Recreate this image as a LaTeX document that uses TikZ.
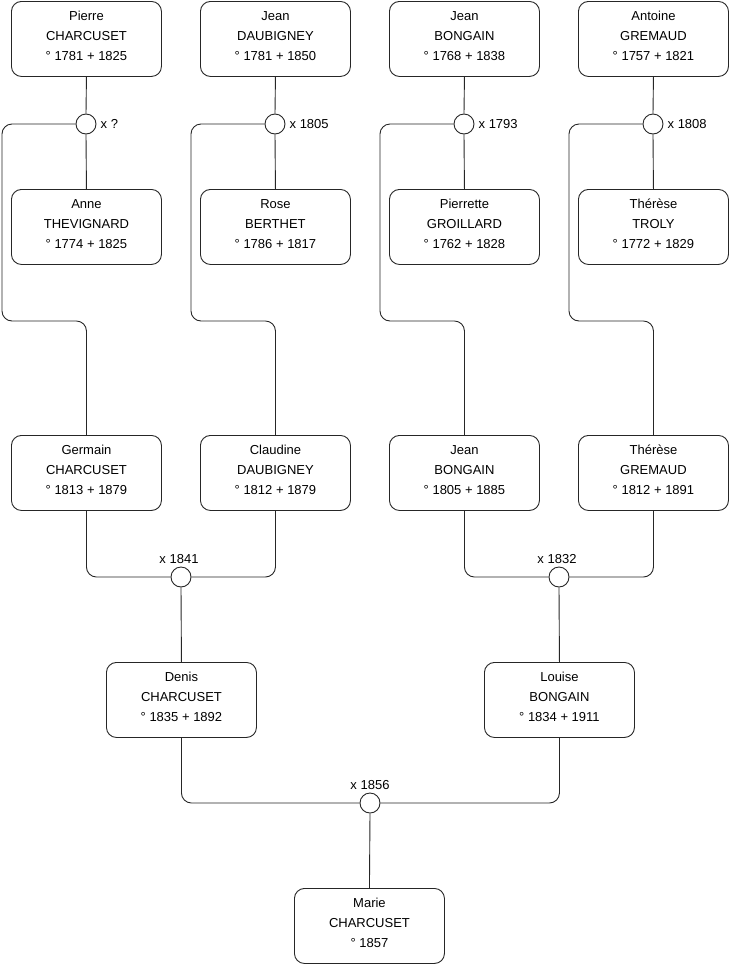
\documentclass[tikz,border=0pt]{standalone}
\usepackage{fontspec}
\setmainfont{Liberation Sans}
\begin{document}
\begin{tikzpicture}[x=1pt,y=-1pt,
  person/.style={draw=black!85, line width=0.9pt, rounded corners=10pt, minimum width=150pt, minimum height=75pt, align=center, inner sep=0pt, text depth=6pt, font=\fontsize{13}{20}\selectfont, anchor=north west},
  union/.style={draw=black!85, fill=white, line width=0.9pt, circle, minimum size=20pt, inner sep=0pt},
  link/.style={draw=black!85, line width=0.9pt, rounded corners=10pt},
  lab/.style={font=\fontsize{13}{15}\selectfont, inner sep=1pt}]
\useasboundingbox (0,0) rectangle (740,975);
% row 1
\node[person] (p1) at (11,1) {Pierre\\CHARCUSET\\° 1781 + 1825};
\node[person] (p2) at (200,1) {Jean\\DAUBIGNEY\\° 1781 + 1850};
\node[person] (p3) at (389,1) {Jean\\BONGAIN\\° 1768 + 1838};
\node[person] (p4) at (578,1) {Antoine\\GREMAUD\\° 1757 + 1821};
% row 2
\node[person] (s1) at (11,189) {Anne\\THEVIGNARD\\° 1774 + 1825};
\node[person] (s2) at (200,189) {Rose\\BERTHET\\° 1786 + 1817};
\node[person] (s3) at (389,189) {Pierrette\\GROILLARD\\° 1762 + 1828};
\node[person] (s4) at (578,189) {Thérèse\\TROLY\\° 1772 + 1829};
% row 3
\node[person] (c1) at (11,435) {Germain\\CHARCUSET\\° 1813 + 1879};
\node[person] (c2) at (200,435) {Claudine\\DAUBIGNEY\\° 1812 + 1879};
\node[person] (c3) at (389,435) {Jean\\BONGAIN\\° 1805 + 1885};
\node[person] (c4) at (578,435) {Thérèse\\GREMAUD\\° 1812 + 1891};
% row 4
\node[person] (d1) at (106,662) {Denis\\CHARCUSET\\° 1835 + 1892};
\node[person] (d2) at (484,662) {Louise\\BONGAIN\\° 1834 + 1911};
% row 5
\node[person] (e1) at (294,888) {Marie\\CHARCUSET\\° 1857};
% unions
\node[union] (u1) at (86,124) {};
\node[union] (u2) at (275,124) {};
\node[union] (u3) at (464,124) {};
\node[union] (u4) at (653,124) {};
\node[union] (v1) at (181,577) {};
\node[union] (v2) at (559,577) {};
\node[union] (w1) at (370,803) {};
% labels
\node[lab, anchor=west] (l1) at (u1.east) [xshift=3pt] {x ?};
\node[lab, anchor=west] (l2) at (u2.east) [xshift=3pt] {x 1805};
\node[lab, anchor=west] (l3) at (u3.east) [xshift=3pt] {x 1793};
\node[lab, anchor=west] (l4) at (u4.east) [xshift=3pt] {x 1808};
\node[lab, anchor=south] (l5) at (v1.north) [xshift=-2pt, yshift=2pt] {x 1841};
\node[lab, anchor=south] (l6) at (v2.north) [xshift=-2pt, yshift=2pt] {x 1832};
\node[lab, anchor=south] (l7) at (w1.north) [yshift=2pt] {x 1856};
% bend points
\coordinate (b1) at (2,321);
\coordinate (b2) at (191,321);
\coordinate (b3) at (380,321);
\coordinate (b4) at (569,321);
% links gen 1
\foreach \i in {1,2,3,4} {
  \draw[link] (p\i.south) -- (u\i.north);
  \draw[link] (u\i.south) -- (s\i.north);
  \draw[link] (u\i.west) -| (b\i) -| (c\i.north);
}
% gen 2
\draw[link] (c1.south) |- (v1.west);
\draw[link] (c2.south) |- (v1.east);
\draw[link] (c3.south) |- (v2.west);
\draw[link] (c4.south) |- (v2.east);
\draw[link] (v1.south) -- (d1.north);
\draw[link] (v2.south) -- (d2.north);
% gen 3
\draw[link] (d1.south) |- (w1.west);
\draw[link] (d2.south) |- (w1.east);
\draw[link] (w1.south) -- (e1.north);
\end{tikzpicture}
\end{document}
